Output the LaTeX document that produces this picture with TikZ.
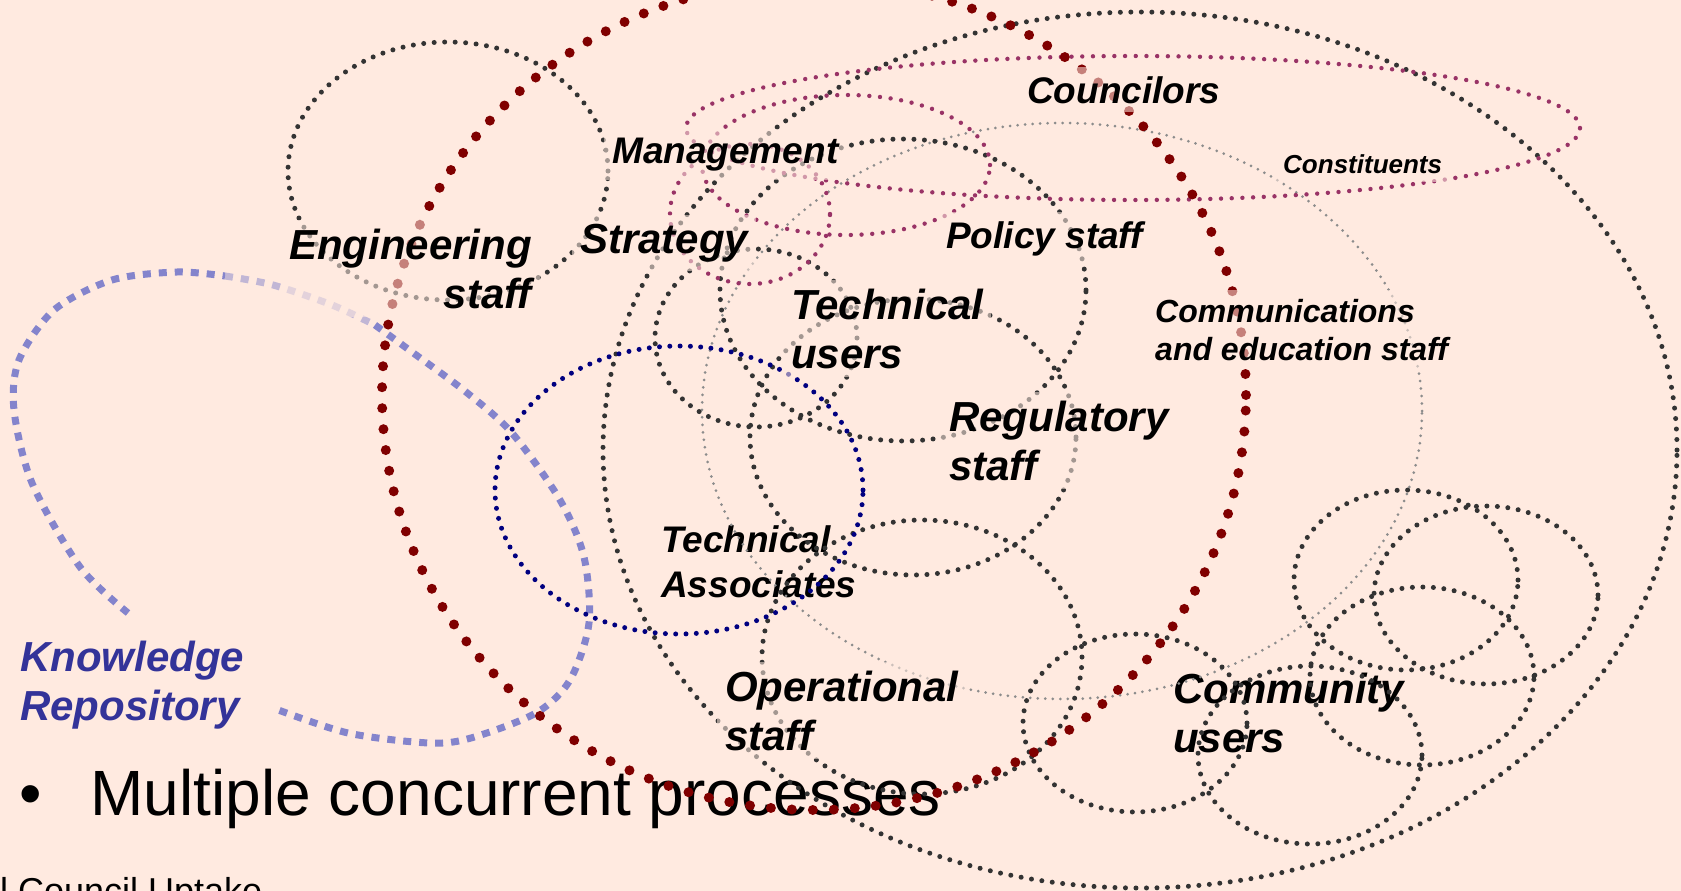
\documentclass[tikz,border=0pt]{standalone}
\usepackage{fontspec}
\setmainfont{Liberation Sans}
\definecolor{peach}{RGB}{255,234,224}
\definecolor{ringgray}{RGB}{51,51,51}
\definecolor{faintgray}{RGB}{140,140,140}
\definecolor{plum}{RGB}{153,51,102}
\definecolor{navyblue}{RGB}{0,0,128}
\definecolor{darkred}{RGB}{128,0,0}
\definecolor{kbline}{RGB}{132,132,204}
\definecolor{kbtext}{RGB}{51,51,153}
\begin{document}
\begin{tikzpicture}[x=1pt,y=-1pt,
  grayring/.style={draw=ringgray,line width=5pt,line cap=round,dash pattern=on 0pt off 10.5pt},
  faintring/.style={draw=faintgray,line width=3pt,line cap=round,dash pattern=on 0pt off 7.5pt},
  pinkring/.style={draw=plum,line width=4.4pt,line cap=round,dash pattern=on 0pt off 10.7pt},
  navyring/.style={draw=navyblue,line width=5pt,line cap=round,dash pattern=on 0pt off 10.3pt},
  redring/.style={draw=darkred,line width=10pt,line cap=round,dash pattern=on 0pt off 21pt},
  kbpath/.style={draw=kbline,line width=7pt,dash pattern=on 8pt off 8pt},
  lbl/.style={inner xsep=8pt,inner ysep=9pt,anchor=base west,align=left},
  veil/.style={fill=peach,fill opacity=0.55,text opacity=1},
  big/.style={font=\fontsize{42}{49}\selectfont\bfseries\itshape},
  mid/.style={font=\fontsize{37}{45}\selectfont\bfseries\itshape},
  comm/.style={font=\fontsize{32}{38}\selectfont\bfseries\itshape},
  tiny/.style={font=\fontsize{26}{30}\selectfont\bfseries\itshape}]
  \fill[peach] (0,0) rectangle (1681,891);
  \useasboundingbox (0,0) rectangle (1681,891);

  \node[anchor=base west,inner sep=0pt,font=\fontsize{64}{70}\selectfont] (bullet) at (19,815) {\textbullet\hspace{49pt}Multiple concurrent processes};
  \node[anchor=base west,inner sep=0pt,font=\fontsize{36}{40}\selectfont] (footer) at (0,903) {l Council Uptake};
  \node[lbl,mid] (techassoc) at (653,597) {Technical\\Associates};
  \node[lbl,big] (community) at (1165,752) {Community\\users};

  \draw[kbpath] plot[smooth] coordinates {(128,613) (80,567) (32,483) (14,410) (19,360) (54,310) (112,280) (177,272) (225,276)};
  \draw[kbpath,draw opacity=0.5] plot[smooth] coordinates {(225,276) (273,285) (332,305) (375,325)};
  \draw[kbpath] plot[smooth] coordinates {(375,325) (412,352) (466,392) (512,433) (560,500) (584,557) (589,623) (570,680) (536,713) (471,738) (429,743) (348,733) (273,708)};

  \draw[faintring] (1062,411) ellipse [x radius=360pt,y radius=288pt];
  \draw[grayring] (1140,450) ellipse [x radius=537pt,y radius=438pt];
  \draw[grayring] (448,171) ellipse [x radius=160pt,y radius=129pt];
  \draw[grayring] (903,290) ellipse [x radius=183pt,y radius=151pt];
  \draw[grayring] (756,338) ellipse [x radius=101pt,y radius=89pt];
  \draw[grayring] (913,437) ellipse [x radius=163pt,y radius=138pt];
  \draw[grayring] (922,657) ellipse [x radius=160pt,y radius=137pt];
  \draw[grayring] (1135,723) ellipse [x radius=112pt,y radius=89pt];
  \draw[grayring] (1310,755) ellipse [x radius=112pt,y radius=89pt];
  \draw[grayring] (1406,580) ellipse [x radius=112pt,y radius=90pt];
  \draw[grayring] (1486,595) ellipse [x radius=112pt,y radius=89pt];
  \draw[grayring] (1422,676) ellipse [x radius=112pt,y radius=89pt];
  \draw[pinkring] (1133,128) ellipse [x radius=447pt,y radius=72pt];
  \draw[pinkring] (846,165) ellipse [x radius=144pt,y radius=70pt];
  \draw[pinkring] (750,214) ellipse [x radius=80pt,y radius=70pt];
  \draw[navyring] (679,490) ellipse [x radius=184pt,y radius=144pt];
  \draw[redring] (814,395) ellipse [x radius=432pt,y radius=415pt];

  \node[lbl,big,veil,anchor=base east,align=right] (engineering) at (540,308) {Engineering\\staff};
  \node[lbl,big,veil] (strategy) at (572,253) {Strategy};
  \node[lbl,mid,veil] (management) at (604,163) {Management};
  \node[lbl,mid,veil] (councilors) at (1019,103) {Councilors};
  \node[lbl,tiny,veil] (constituents) at (1275,173) {Constituents};
  \node[lbl,mid,veil] (policy) at (938,248) {Policy staff};
  \node[lbl,big,veil] (techusers) at (783,368) {Technical\\users};
  \node[lbl,comm,veil] (communications) at (1147,360) {Communications\\and education staff};
  \node[lbl,big,veil] (regulatory) at (941,480) {Regulatory\\staff};
  \node[lbl,big,veil] (operational) at (717,750) {Operational\\staff};
  \node[lbl,big,text=kbtext] (knowledge) at (12,720) {Knowledge\\Repository};
\end{tikzpicture}
\end{document}
